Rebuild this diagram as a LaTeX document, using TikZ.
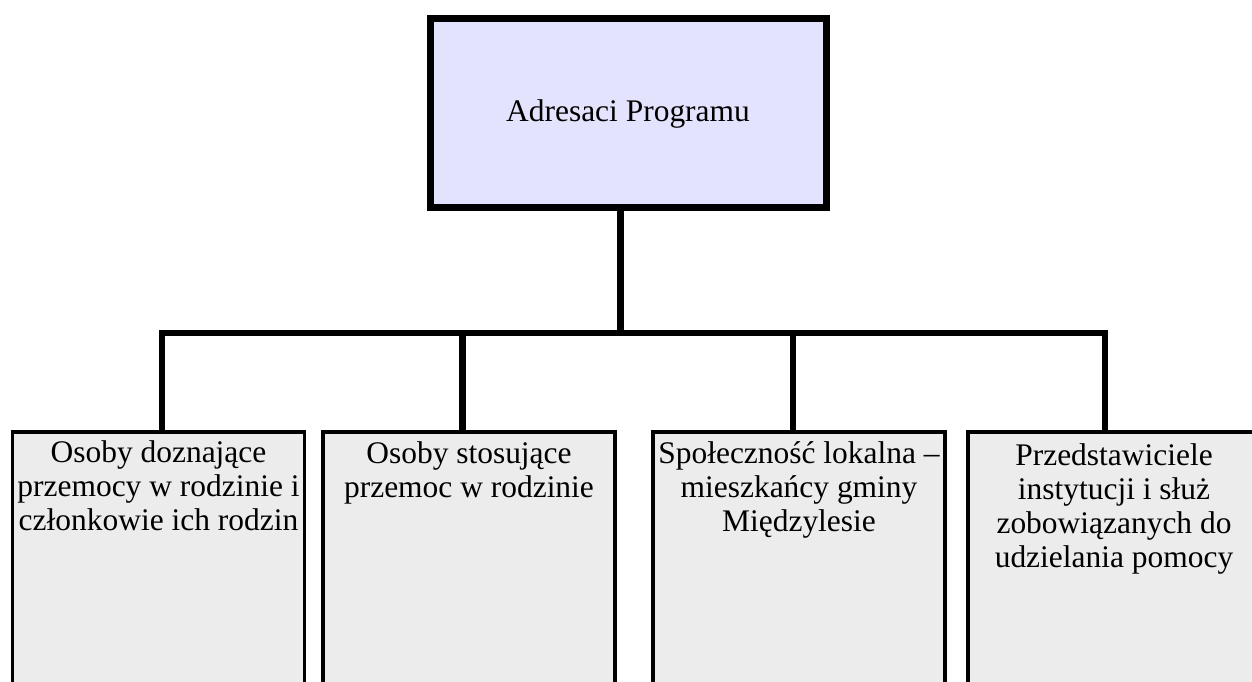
\documentclass[tikz,border=0pt]{standalone}
\usepackage{fontspec}
\setmainfont{Liberation Serif}
\usepackage{tikz}
\usepackage{xcolor}
\usetikzlibrary{positioning}
\definecolor{adrviolet}{HTML}{E3E3FD}
\definecolor{adrgrey}{HTML}{ECECEC}

\begin{document}
\begin{tikzpicture}[every node/.style={font=\fontsize{17.9pt}{19.4pt}\selectfont},
    topbox/.style={draw=black,fill=adrviolet,line width=0.14cm,minimum width=7.92cm,minimum height=3.78cm},
    lowbox/.style={draw=black,fill=adrgrey,line width=0.07cm,minimum width=5.84cm,minimum height=5.6cm,anchor=north},
    boxtext/.style={align=center,inner sep=0pt,anchor=north},
    bus/.style={draw=black,line width=0.13cm,line join=miter}]
  % cadre
  \useasboundingbox (0,0) rectangle (25.04,13.62);
  \clip (0,0) rectangle (25.04,13.62);
  % haut
  \node[topbox] (adresaci) at (12.56,11.35) {Adresaci Programu};
  % cases du bas
  \node[lowbox] (osoby) at (3.17,5.02) {};
  \node[lowbox] (stosujacy) at (9.38,5.02) {};
  \node[lowbox] (spolecznosc) at (15.98,5.02) {};
  \node[lowbox,minimum width=6.6cm] (przedstaw) at (22.66,5.02) {};
  \node[boxtext,below=0.21cm of osoby.north] (osobyt)
    {Osoby doznające\\przemocy w rodzinie i\\członkowie ich rodzin};
  \node[boxtext,below=0.23cm of stosujacy.north] (stosujacyt)
    {Osoby stosujące\\przemoc w rodzinie};
  \node[boxtext,below=0.22cm of spolecznosc.north] (spolecznosct)
    {Społeczność lokalna –\\mieszkańcy gminy\\Międzylesie};
  \node[boxtext,below=0.26cm of przedstaw.north,xshift=-0.38cm] (przedstawt)
    {Przedstawiciele\\instytucji i służ\\zobowiązanych do\\udzielania pomocy};
  % points sur la barre
  \coordinate (t) at (12.40,6.96);
  \coordinate (d1) at (3.24,6.96);
  \coordinate (d2) at (9.25,6.96);
  \coordinate (d3) at (15.86,6.96);
  \coordinate (d4) at (22.10,6.96);
  % liaisons
  \draw[bus,line width=0.14cm] (adresaci.south -| t) -- (t);
  \draw[bus] (osoby.north -| d1) |- (d4) -- (przedstaw.north -| d4);
  \draw[bus] (d2) -- (stosujacy.north -| d2);
  \draw[bus] (d3) -- (spolecznosc.north -| d3);
\end{tikzpicture}
\end{document}
